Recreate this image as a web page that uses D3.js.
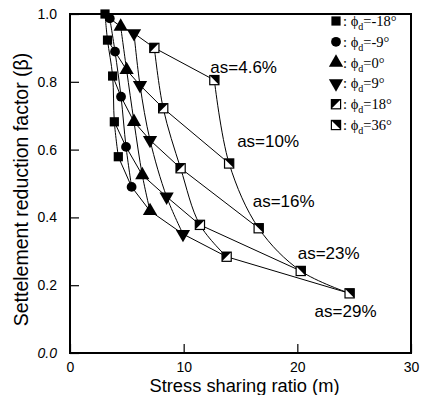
<!DOCTYPE html>
<html>
<head>
<meta charset="utf-8">
<script src="https://cdn.jsdelivr.net/npm/d3@7"></script>
<style>
  body { margin: 0; background: #fff; }
  svg { display: block; font-family: "Liberation Sans", Arial, Helvetica, sans-serif; }
  .axis text { font-size: 14px; fill: #000; }
  .axis line { stroke: #000; stroke-width: 1.2; }
</style>
</head>
<body>
<div id="chart"></div>
<script>
/* global d3 */
// settlement reduction factor vs stress sharing ratio, one series per phi_d
var phiLabels = ['-18', '-9', '0', '9', '18', '36']
var asLabels = ['as=4.6%', 'as=10%', 'as=16%', 'as=23%', 'as=29%']

// m values, one row per phi_d, one column per area ratio
var mPhiM18 = [3.08, 3.30, 3.75, 3.90, 4.25]
var mPhiM9 = [3.50, 3.96, 4.49, 4.93, 5.42]
var mPhi0 = [4.46, 4.98, 5.63, 6.36, 7.04]
var mPhi9 = [5.63, 6.16, 7.04, 8.50, 9.94]
var mPhi18 = [7.42, 8.20, 9.73, 11.43, 13.78]
var mPhi36 = [12.70, 14.00, 16.60, 20.30, 24.60]

// beta values, same layout
var bPhiM18 = [1.000, 0.923, 0.817, 0.682, 0.579]
var bPhiM9 = [0.987, 0.889, 0.756, 0.608, 0.490]
var bPhi0 = [0.963, 0.835, 0.682, 0.525, 0.419]
var bPhi9 = [0.943, 0.790, 0.628, 0.461, 0.351]
var bPhi18 = [0.900, 0.722, 0.545, 0.378, 0.284]
var bPhi36 = [0.805, 0.559, 0.368, 0.242, 0.176]

var xTicks = [0, 10, 20, 30]
var yTicks = [0, 0.2, 0.4, 0.6, 0.8, 1.0]

;(function () {
  'use strict'

  var w = 433
  var h = 395
  var left = 70
  var right = 411
  var top = 14
  var bottom = 353

  var mRows = [mPhiM18, mPhiM9, mPhi0, mPhi9, mPhi18, mPhi36]
  var bRows = [bPhiM18, bPhiM9, bPhi0, bPhi9, bPhi18, bPhi36]
  var markers = ['square', 'circle', 'up', 'down', 'half1', 'half2']

  var series = phiLabels.map(function (p, i) {
    return {
      phi: p,
      marker: markers[i],
      points: mRows[i].map(function (m, j) { return { m: m, b: bRows[i][j], as: j } })
    }
  })

  var x = d3.scaleLinear().domain([0, 30]).range([left, right])
  var y = d3.scaleLinear().domain([0, 1]).range([bottom, top])

  var svg = d3.select('#chart').append('svg')
    .attr('width', w)
    .attr('height', h)

  // axes, ticks pointing inward
  var gx = svg.append('g')
    .attr('class', 'axis')
    .attr('transform', 'translate(0,' + bottom + ')')
    .call(d3.axisBottom(x).tickValues(xTicks).tickSizeInner(-9).tickSizeOuter(0).tickPadding(9)
      .tickFormat(d3.format('d')))
  gx.select('.domain').remove()

  var gy = svg.append('g')
    .attr('class', 'axis')
    .attr('transform', 'translate(' + left + ',0)')
    .call(d3.axisLeft(y).tickValues(yTicks).tickSizeInner(-9).tickSizeOuter(0).tickPadding(13)
      .tickFormat(d3.format('.1f')))
  gy.select('.domain').remove()
  gy.selectAll('.tick text').filter(function (d) { return d === 0 })
    .style('font-style', 'italic')

  // frame
  svg.append('rect')
    .attr('x', left)
    .attr('y', top)
    .attr('width', right - left)
    .attr('height', bottom - top)
    .attr('fill', 'none')
    .attr('stroke', '#000')
    .attr('stroke-width', 2)

  // axis titles
  svg.append('text')
    .attr('x', (left + right) / 2 + 4)
    .attr('y', 392)
    .attr('text-anchor', 'middle')
    .style('font-size', '18.3px')
    .text('Stress sharing ratio (m)')

  svg.append('text')
    .attr('transform', 'translate(28,' + ((top + bottom) / 2 + 6) + ') rotate(-90)')
    .attr('text-anchor', 'middle')
    .style('font-size', '19.5px')
    .text('Settelement reduction factor (\u03b2)')

  var plot = svg.append('g')

  // curves along each phi series
  var curve = d3.line()
    .x(function (d) { return x(d.m) })
    .y(function (d) { return y(d.b) })
    .curve(d3.curveCatmullRom.alpha(0.5))

  plot.selectAll('.phi-line').data(series).enter().append('path')
    .attr('class', 'phi-line')
    .attr('d', function (d) { return curve(d.points) })
    .attr('fill', 'none')
    .attr('stroke', '#000')
    .attr('stroke-width', 1)

  // lines joining the same area ratio across phi
  var straight = d3.line()
    .x(function (d) { return x(d.m) })
    .y(function (d) { return y(d.b) })

  var asLines = asLabels.map(function (lab, j) {
    return series.map(function (s) { return s.points[j] })
  })

  plot.selectAll('.as-line').data(asLines).enter().append('path')
    .attr('class', 'as-line')
    .attr('d', straight)
    .attr('fill', 'none')
    .attr('stroke', '#000')
    .attr('stroke-width', 1)

  // marker drawing
  function drawMarker (g, type) {
    var s = 4.6
    if (type === 'square') {
      g.append('rect').attr('x', -s).attr('y', -s).attr('width', 2 * s).attr('height', 2 * s)
        .attr('fill', '#000')
    } else if (type === 'circle') {
      g.append('circle').attr('r', 4.9).attr('fill', '#000')
    } else if (type === 'up') {
      g.append('path').attr('d', d3.symbol(d3.symbolTriangle, 88)()).attr('fill', '#000')
    } else if (type === 'down') {
      g.append('path').attr('d', d3.symbol(d3.symbolTriangle, 88)())
        .attr('transform', 'rotate(180)').attr('fill', '#000')
    } else {
      g.append('rect').attr('x', -s).attr('y', -s).attr('width', 2 * s).attr('height', 2 * s)
        .attr('fill', '#fff').attr('stroke', '#000').attr('stroke-width', 1.2)
      var tri = type === 'half1'
        ? [[-s, -s], [s, -s], [-s, s]]
        : [[-s, -s], [s, -s], [s, s]]
      g.append('path').attr('d', 'M' + tri.join('L') + 'Z').attr('fill', '#000')
    }
  }

  series.forEach(function (s) {
    plot.selectAll(null).data(s.points).enter().append('g')
      .attr('transform', function (d) { return 'translate(' + x(d.m) + ',' + y(d.b) + ')' })
      .each(function () { drawMarker(d3.select(this), s.marker) })
  })

  // area ratio labels, placed from the phi=36 point of each line
  var labelOffsets = [[-4, -7.5], [8, -16], [-6, -21], [-3, -12], [-35, 24]]
  var last = series[series.length - 1].points
  svg.selectAll('.as-label').data(asLabels).enter().append('text')
    .attr('class', 'as-label')
    .attr('x', function (d, j) { return x(last[j].m) + labelOffsets[j][0] })
    .attr('y', function (d, j) { return y(last[j].b) + labelOffsets[j][1] })
    .style('font-size', '17px')
    .text(function (d) { return d })

  // legend
  var legend = svg.append('g')
    .attr('transform', 'translate(336,21)')

  var item = legend.selectAll('g').data(series).enter().append('g')
    .attr('transform', function (d, i) { return 'translate(0,' + (i * 20.8) + ')' })

  item.each(function (d) { drawMarker(d3.select(this), d.marker) })

  var t = item.append('text')
    .attr('x', 7)
    .attr('y', 5)
    .style('font-family', '"Liberation Serif", "Times New Roman", serif')
    .style('font-size', '14.5px')
  t.append('tspan').text(': \u03d5')
  t.append('tspan').attr('dy', 4).style('font-size', '10px').text('d')
  t.append('tspan').attr('dy', -4).text(function (d) { return '=' + d.phi + '\u00b0' })
}())
</script>
</body>
</html>
